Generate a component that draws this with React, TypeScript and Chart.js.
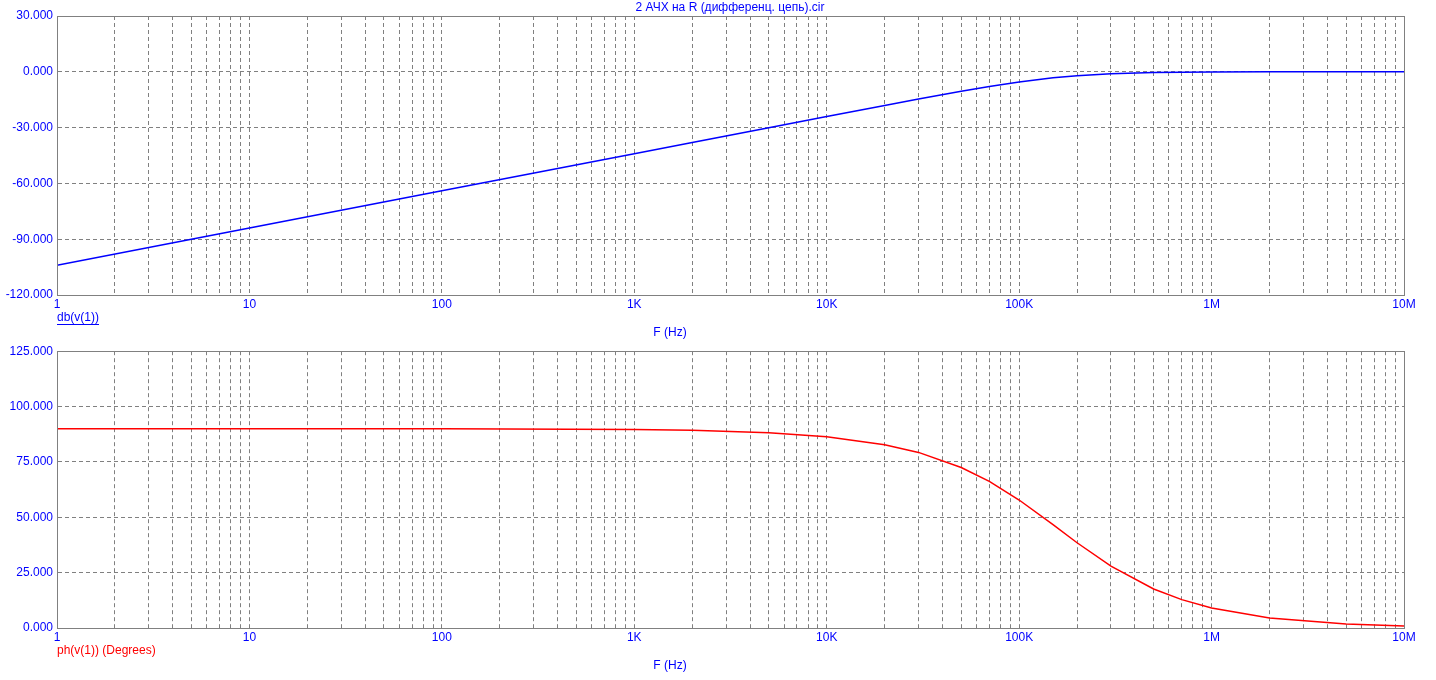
import React, { useEffect, useRef } from 'react';
import { Chart, registerables } from 'chart.js';

Chart.register(...registerables);

// ---- Data ----
const freqs = [1, 10, 100, 1000, 2000, 5000, 10000, 20000, 30000, 50000, 70000, 100000, 150000, 200000, 300000, 500000, 700000, 1000000, 2000000, 5000000, 10000000];
const magDb = [-104.0, -84.0, -64.0, -44.0, -38.0, -30.05, -24.05, -18.1, -14.65, -10.45, -7.9, -5.5, -3.25, -2.13, -1.08, -0.42, -0.22, -0.11, -0.03, 0.0, 0.0];
const phaseDeg = [90.0, 90.0, 89.96, 89.64, 89.28, 88.2, 86.4, 82.8, 79.3, 72.5, 66.2, 57.8, 46.7, 38.5, 27.9, 17.6, 12.8, 9.0, 4.55, 1.8, 0.9];

const decadeValues = [1, 10, 100, 1000, 10000, 100000, 1000000, 10000000];
const decadeLabels = ['1', '10', '100', '1K', '10K', '100K', '1M', '10M'];
const minorMultipliers = [1, 2, 3, 4, 5, 6, 7, 8, 9];

const magTicks = [-120, -90, -60, -30, 0, 30];
const phaseTicks = [0, 25, 50, 75, 100, 125];

const titleText = '2 АЧХ на R (дифференц. цепь).cir';
const magLabel = 'db(v(1))';
const phaseLabel = 'ph(v(1)) (Degrees)';
const freqLabel = 'F (Hz)';

const BLUE = '#0000FF';
const RED = '#FF0000';
const GRID = '#808080';
const FONT = "'Liberation Sans', Arial, sans-serif";

const gridFreqs: number[] = [];
decadeValues.forEach((d, i) => {
  if (i === decadeValues.length - 1) {
    gridFreqs.push(d);
  } else {
    minorMultipliers.forEach((m) => gridFreqs.push(d * m));
  }
});

type TextItem = { text: string; x: number; y: number; color: string; align: CanvasTextAlign; underline?: boolean };

function makeConfig(
  values: number[],
  color: string,
  yTicks: number[],
  padTop: number,
  xAxisHeight: number,
  texts: TextItem[]
): any {
  const framePlugin = {
    id: 'frameAndTexts',
    afterDraw(chart: any) {
      const { ctx, chartArea } = chart;
      ctx.save();
      ctx.strokeStyle = GRID;
      ctx.lineWidth = 1;
      ctx.setLineDash([]);
      ctx.strokeRect(
        Math.round(chartArea.left) + 0.5,
        Math.round(chartArea.top) + 0.5,
        Math.round(chartArea.right) - Math.round(chartArea.left),
        Math.round(chartArea.bottom) - Math.round(chartArea.top)
      );
      ctx.font = `12px ${FONT}`;
      ctx.textBaseline = 'middle';
      texts.forEach((t) => {
        ctx.fillStyle = t.color;
        ctx.textAlign = t.align;
        ctx.fillText(t.text, t.x, t.y);
        if (t.underline) {
          const w = ctx.measureText(t.text).width;
          ctx.strokeStyle = t.color;
          ctx.beginPath();
          ctx.moveTo(t.x, Math.round(t.y + 6) + 0.5);
          ctx.lineTo(t.x + w, Math.round(t.y + 6) + 0.5);
          ctx.stroke();
        }
      });
      ctx.restore();
    },
  };

  return {
    type: 'line',
    data: {
      datasets: [
        {
          data: freqs.map((f, i) => ({ x: f, y: values[i] })),
          borderColor: color,
          borderWidth: 1.5,
          pointRadius: 0,
          tension: 0,
          fill: false,
        },
      ],
    },
    options: {
      responsive: false,
      animation: false,
      parsing: true,
      layout: { padding: { left: 0, right: 32, top: padTop, bottom: 0 } },
      plugins: {
        legend: { display: false },
        tooltip: { enabled: false },
        title: { display: false },
      },
      scales: {
        x: {
          type: 'logarithmic',
          min: 1,
          max: 10000000,
          afterBuildTicks: (scale: any) => {
            scale.ticks = gridFreqs.map((v) => ({ value: v }));
          },
          afterFit: (scale: any) => {
            scale.height = xAxisHeight;
          },
          ticks: {
            autoSkip: false,
            maxRotation: 0,
            minRotation: 0,
            padding: 2,
            color: BLUE,
            font: { family: FONT, size: 12 },
            callback: (value: any) => {
              const idx = decadeValues.findIndex((d) => Math.abs(d - Number(value)) < d * 1e-6);
              return idx >= 0 ? decadeLabels[idx] : '';
            },
          },
          grid: { color: GRID, lineWidth: 1, drawTicks: false },
          border: { display: true, color: GRID, width: 1, dash: [4, 3] },
        },
        y: {
          type: 'linear',
          min: yTicks[0],
          max: yTicks[yTicks.length - 1],
          afterBuildTicks: (scale: any) => {
            scale.ticks = yTicks.map((v) => ({ value: v }));
          },
          afterFit: (scale: any) => {
            scale.width = 57;
          },
          ticks: {
            padding: 4,
            color: BLUE,
            font: { family: FONT, size: 12 },
            callback: (value: any) => Number(value).toFixed(3),
          },
          grid: { color: GRID, lineWidth: 1, drawTicks: false },
          border: { display: true, color: GRID, width: 1, dash: [4, 3] },
        },
      },
    },
    plugins: [framePlugin],
  };
}

function PlotCanvas(props: { config: () => any; top: number }) {
  const ref = useRef<HTMLCanvasElement | null>(null);
  useEffect(() => {
    if (!ref.current) return;
    const chart = new Chart(ref.current, props.config());
    return () => chart.destroy();
  }, []);
  return (
    <canvas
      ref={ref}
      width={1436}
      height={340}
      style={{ position: 'absolute', left: 0, top: props.top, width: 1436, height: 340 }}
    />
  );
}

export default function App() {
  const topTexts: TextItem[] = [
    { text: titleText, x: 730, y: 8, color: BLUE, align: 'center' },
    { text: magLabel, x: 57, y: 318, color: BLUE, align: 'left', underline: true },
    { text: freqLabel, x: 670, y: 333, color: BLUE, align: 'center' },
  ];
  const bottomTexts: TextItem[] = [
    { text: phaseLabel, x: 57, y: 311, color: RED, align: 'left' },
    { text: freqLabel, x: 670, y: 326, color: BLUE, align: 'center' },
  ];
  return (
    <div style={{ position: 'absolute', left: 0, top: 0, width: 1436, height: 680, background: '#fff' }}>
      <PlotCanvas top={0} config={() => makeConfig(magDb, BLUE, magTicks, 16, 45, topTexts)} />
      <PlotCanvas top={340} config={() => makeConfig(phaseDeg, RED, phaseTicks, 9, 52, bottomTexts)} />
    </div>
  );
}
